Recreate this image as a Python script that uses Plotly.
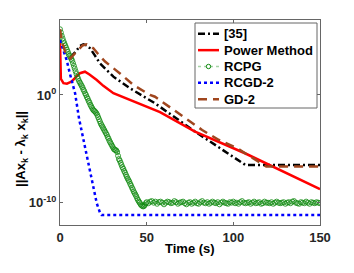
import numpy as np
import plotly.graph_objects as go

# values are log10 of ||Ax_k - lambda_k x_k||
t_ref35 = [6, 9, 11.5, 13.5, 15.5, 17.3, 20, 23, 30.8, 40.4, 50, 54.8, 77.9, 104.8, 107, 150]
v_ref35 = [3.5, 4.0, 4.55, 4.7, 4.6, 4.34, 3.7, 2.94, 1.7, 0.62, -0.31, -0.77, -3.4, -6.34, -6.5, -6.5]

t_power = [0, 0.5, 2, 4, 6.7, 9, 11.5, 14.4, 17, 21.2, 25, 30.8, 40.4, 50, 57.7, 77.9, 106.7, 150]
v_power = [5.0, 1.5, 1.1, 1.05, 1.25, 1.6, 2.02, 2.16, 1.9, 1.39, 0.85, 0.16, -0.46, -1.1, -1.6, -3.4, -5.41, -8.75]

t_rcpg = [i * 0.5 for i in range(101)] + list(range(51, 151))
v_rcpg = [
    # t = 0 .. 50, every 0.5 s
    6.1, 5.8, 5.5, 5.25, 5.0, 4.8, 4.6, 4.4, 4.2, 4.0,
    3.8, 3.65, 3.5, 3.35, 3.2, 2.95, 2.7, 2.45, 2.2, 1.95,
    1.7, 1.5, 1.3, 1.15, 1.0, 0.85, 0.7, 0.5, 0.35, 0.15,
    0.0, -0.2, -0.35, -0.55, -0.7, -0.9, -1.05, -1.2, -1.35, -1.45,
    -1.5, -1.6, -1.7, -1.85, -2.05, -2.25, -2.45, -2.65, -2.8, -2.95,
    -3.1, -3.25, -3.4, -3.55, -3.7, -3.9, -4.05, -4.25, -4.4, -4.55,
    -4.7, -4.85, -5.0, -5.08, -5.12, -5.15, -5.3, -5.65, -5.95, -6.1,
    -6.3, -6.5, -6.7, -6.85, -7.05, -7.2, -7.4, -7.58, -7.75, -7.9,
    -8.05, -8.25, -8.4, -8.6, -8.75, -8.95, -9.1, -9.25, -9.4, -9.6,
    -9.75, -9.9, -10.0, -10.15, -10.25, -10.3, -10.35, -10.3, -10.2, -10.05,
    -9.95,
    # t = 51 .. 150, every 1 s
    -10.05, -9.9, -9.85, -10.0, -9.9, -10.1, -9.95, -9.9, -10.0,
    -10.15, -10.0, -9.9, -9.95, -10.05, -10.0, -9.85, -9.95, -10.1, -10.0,
    -9.95, -9.9, -10.05, -10.15, -10.0, -9.95, -10.1, -10.0, -9.9, -10.05,
    -10.1, -9.95, -9.85, -10.0, -10.05, -9.95, -10.1, -10.0, -9.9, -10.0,
    -10.05, -9.95, -10.15, -10.0, -9.9, -10.0, -10.05, -10.1, -9.95, -10.0,
    -9.9, -10.05, -10.0, -10.1, -9.95, -9.85, -10.0, -10.05, -10.0, -9.95,
    -10.1, -10.0, -9.9, -10.05, -10.0, -9.95, -10.1, -10.05, -9.9, -10.0,
    -10.0, -10.05, -9.95, -10.1, -10.0, -9.9, -10.0, -10.05, -10.0, -9.95,
    -10.1, -10.0, -9.95, -10.05, -9.9, -9.85, -10.0, -10.05, -10.1, -9.95,
    -10.0, -10.05, -9.9, -10.0, -10.1, -9.95, -10.0, -10.05, -9.95, -10.0,
    -10.05,
]

t_rcgd2 = [0, 2, 3.8, 6, 8.7, 11, 13.5, 17.3, 21.2, 23, 24, 150]
v_rcgd2 = [5.1, 4.2, 3.25, 1.8, 0.16, -2.2, -4.2, -7.27, -10.05, -10.9, -11.15, -11.15]

t_gd2 = [0, 1, 3, 6, 10, 13, 15.4, 19.2, 22, 26, 34.6, 42.3, 51.9, 54.8, 82, 91.7, 102.3, 119, 150]
v_gd2 = [6.1, 5.0, 4.0, 3.4, 4.1, 4.6, 4.7, 4.34, 3.8, 3.1, 2.0, 0.93, 0.0, -0.16, -3.25, -4.18, -4.95, -6.65, -6.65]

series_names = ["[35]", "Power Method", "RCPG", "RCGD-2", "GD-2"]
x_ticks = [0, 50, 100, 150]
y_ticks = [0, -10]

FONT = "Liberation Sans, Arial, sans-serif"

# the page body has an 8px margin; figure is sized so the plot lands at 60..320 x 20..225
W, H = 338, 257
L, T = 52, 12
PW, PH = 260, 205

styles = [
    dict(mode="lines", line=dict(color="black", width=2.5, dash="7px,3px,2px,3px")),
    dict(mode="lines", line=dict(color="#ff0000", width=2.5)),
    dict(mode="lines+markers", line=dict(color="rgba(0,128,0,0.3)", width=1, dash="dot"),
         marker=dict(symbol="circle-open", size=5, color="#108a10", line=dict(width=0.8, color="#108a10"))),
    dict(mode="lines", line=dict(color="#0000ff", width=2.5, dash="dot")),
    dict(mode="lines", line=dict(color="#a0461e", width=2.5, dash="9px,6px")),
]
data = [(t_ref35, v_ref35), (t_power, v_power), (t_rcpg, v_rcpg), (t_rcgd2, v_rcgd2), (t_gd2, v_gd2)]


def pw(v):
    return 10 ** np.array(v, dtype=float)


def px_x(px):
    return (px - 8 - L) / PW


def px_y(py):
    return (T + PH - (py - 8)) / PH


fig = go.Figure()
for name, (t, v), st in zip(series_names, data, styles):
    fig.add_trace(go.Scatter(x=t, y=pw(v), name=name, showlegend=False, **st))

# legend box drawn to match the reference's compact legend
shapes = [dict(type="rect", xref="paper", yref="paper",
               x0=px_x(195), x1=px_x(317), y0=px_y(108), y1=px_y(23),
               line=dict(color="#666", width=1), fillcolor="white", layer="above")]
annotations = []
row0, dy = 33.8, 16.35
for i, (name, st) in enumerate(zip(series_names, styles)):
    yy = px_y(row0 + i * dy)
    ln = st["line"]
    shapes.append(dict(type="line", xref="paper", yref="paper",
                       x0=px_x(198), x1=px_x(219), y0=yy, y1=yy,
                       line=dict(color=ln["color"] if i != 2 else "rgba(0,128,0,0.35)",
                                 width=ln["width"] if i != 2 else 1.5, dash=ln.get("dash", "solid")),
                       layer="above"))
    if "marker" in st:
        r = 2.2
        shapes.append(dict(type="circle", xref="paper", yref="paper",
                           x0=px_x(208.5 - r), x1=px_x(208.5 + r),
                           y0=yy - r / PH, y1=yy + r / PH,
                           line=dict(color="#108a10", width=1), fillcolor="rgba(0,0,0,0)",
                           layer="above"))
    annotations.append(dict(text=f"<b>{name}</b>", xref="paper", yref="paper",
                            x=px_x(221.5), y=yy, xanchor="left", yanchor="middle",
                            showarrow=False, font=dict(family=FONT, size=13, color="black")))

annotations += [
    dict(text="<b>Time (s)</b>", xref="paper", yref="paper",
         x=0.5, y=px_y(248), xanchor="center", yanchor="middle",
         showarrow=False, font=dict(family=FONT, size=13, color="black")),
    dict(text="<b>||Ax<sub>k</sub> - λ<sub>k</sub> x<sub>k</sub>||</b>", xref="paper", yref="paper",
         x=px_x(21), y=px_y(149), xanchor="center", yanchor="middle",
         textangle=-90, showarrow=False, font=dict(family=FONT, size=13, color="black")),
]

fig.update_layout(
    width=W, height=H,
    margin=dict(l=L, r=W - L - PW, t=T, b=H - T - PH, autoexpand=False),
    paper_bgcolor="white", plot_bgcolor="white",
    font=dict(family=FONT, size=13, color="#262626"),
    showlegend=False,
    xaxis=dict(range=[0, 150], tickvals=x_ticks,
               ticktext=[f"<b>{v}</b>" for v in x_ticks],
               ticks="inside", ticklen=3, tickcolor="#666",
               showline=True, linecolor="#666", linewidth=1, mirror="allticks",
               showgrid=False, zeroline=False),
    yaxis=dict(type="log", range=[-12.07, 6.96], tickvals=[10.0 ** v for v in y_ticks],
               ticktext=[f"<b>10<sup>{v}</sup></b>" for v in y_ticks],
               ticks="inside", ticklen=3, tickcolor="#666",
               showline=True, linecolor="#666", linewidth=1, mirror="allticks",
               showgrid=False, zeroline=False),
    shapes=shapes,
    annotations=annotations,
)

fig.write_html("out.html")
